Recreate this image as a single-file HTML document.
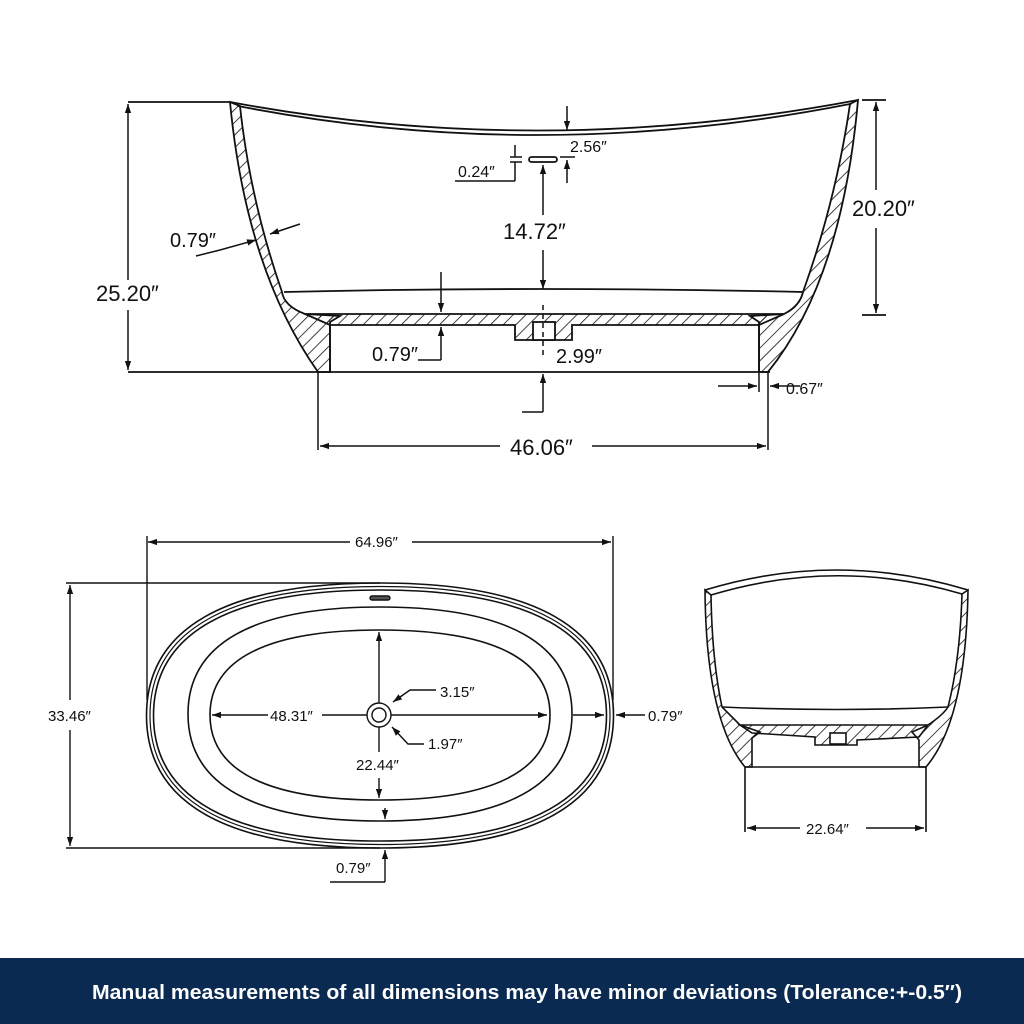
<!DOCTYPE html>
<html><head><meta charset="utf-8"><style>
html,body{margin:0;padding:0;background:#fff}
svg{display:block}
text{font-family:"Liberation Sans",sans-serif;fill:#111}
</style></head><body>
<svg width="1024" height="1024" viewBox="0 0 1024 1024" xmlns="http://www.w3.org/2000/svg">
<defs>
<pattern id="h" width="9" height="9" patternUnits="userSpaceOnUse" patternTransform="rotate(45)">
<line x1="0" y1="0" x2="0" y2="9" stroke="#111" stroke-width="1.6"/>
</pattern>
<marker id="a" viewBox="0 0 10 10" refX="10" refY="5" markerWidth="9" markerHeight="9" orient="auto-start-reverse" markerUnits="userSpaceOnUse">
<path d="M0,1.5 L10,5 L0,8.5Z" fill="#111"/>
</marker>
</defs>
<rect width="1024" height="1024" fill="#fff"/>

<g fill="none" stroke="#111" stroke-width="1.8">
<path d="M230,102 Q540,160 858,100"/>
<path d="M238,106 Q540,165 850,104"/>
<path d="M230,102 Q246,270 318,372 L330,372 L330,322 L340,316 L305,314 Q284,306 282,292 Q250,200 240,106 Z" fill="url(#h)"/>
<path d="M858,100 Q842,280 768,372 L759,372 L759,322 L750,316 L784,314 Q800,306 803,292 Q836,200 850,104 Z" fill="url(#h)"/>
<path d="M284,292 Q540,286 803,292"/>
<path d="M305,314 L784,314 L759,325 L572,325 L572,340 L515,340 L515,325 L330,325 Z" fill="url(#h)"/>
<rect x="533" y="322" width="22" height="18" fill="#fff"/>
<line x1="330" y1="325" x2="330" y2="372"/>
<line x1="759" y1="325" x2="759" y2="372"/>
<line x1="128" y1="372" x2="770" y2="372"/>
<line x1="128" y1="102" x2="230" y2="102"/>
<line x1="862" y1="100" x2="886" y2="100"/>
<line x1="862" y1="315" x2="886" y2="315"/>
<rect x="529" y="157" width="28" height="5" rx="2.5" fill="#fff"/>
</g>

<g fill="none" stroke="#111" stroke-width="1.5">
<line x1="128" y1="104" x2="128" y2="280" marker-start="url(#a)"/>
<line x1="128" y1="310" x2="128" y2="370" marker-end="url(#a)"/>
<line x1="876" y1="102" x2="876" y2="190" marker-start="url(#a)"/>
<line x1="876" y1="228" x2="876" y2="313" marker-end="url(#a)"/>
<line x1="567" y1="106" x2="567" y2="130" marker-end="url(#a)"/>
<line x1="567" y1="183" x2="567" y2="160" marker-end="url(#a)"/>
<line x1="560" y1="157" x2="575" y2="157"/>
<line x1="515" y1="145" x2="515" y2="157"/>
<line x1="510" y1="157" x2="522" y2="157"/>
<line x1="510" y1="162" x2="522" y2="162"/>
<line x1="515" y1="162" x2="515" y2="181"/>
<line x1="455" y1="181" x2="515" y2="181"/>
<line x1="543" y1="215" x2="543" y2="165" marker-end="url(#a)"/>
<line x1="543" y1="250" x2="543" y2="289" marker-end="url(#a)"/>
<line x1="196" y1="256" x2="220" y2="250"/>
<line x1="220" y1="250" x2="256" y2="240" marker-end="url(#a)"/>
<line x1="300" y1="224" x2="270" y2="234" marker-end="url(#a)"/>
<line x1="441" y1="272" x2="441" y2="312" marker-end="url(#a)"/>
<line x1="441" y1="360" x2="441" y2="327" marker-end="url(#a)"/>
<line x1="418" y1="360" x2="441" y2="360"/>
<line x1="543" y1="305" x2="543" y2="355" stroke-dasharray="5,4"/>
<line x1="543" y1="412" x2="543" y2="374" marker-end="url(#a)"/>
<line x1="522" y1="412" x2="543" y2="412"/>
<line x1="718" y1="386" x2="757" y2="386" marker-end="url(#a)"/>
<line x1="800" y1="386" x2="770" y2="386" marker-end="url(#a)"/>
<line x1="759" y1="372" x2="759" y2="392"/>
<line x1="318" y1="372" x2="318" y2="450"/>
<line x1="768" y1="372" x2="768" y2="450"/>
<line x1="320" y1="446" x2="500" y2="446" marker-start="url(#a)"/>
<line x1="592" y1="446" x2="766" y2="446" marker-end="url(#a)"/>
</g>

<g font-size="20">
<text x="570" y="152" font-size="16">2.56″</text>
<text x="458" y="177" font-size="16">0.24″</text>
<text x="503" y="239" font-size="22">14.72″</text>
<text x="170" y="247">0.79″</text>
<text x="96" y="301" font-size="22">25.20″</text>
<text x="852" y="216" font-size="22">20.20″</text>
<text x="372" y="361">0.79″</text>
<text x="556" y="363">2.99″</text>
<text x="786" y="394" font-size="16">0.67″</text>
<text x="510" y="455" font-size="22">46.06″</text>
</g>

<g fill="none" stroke="#111" stroke-width="1.6">
<path d="M146.5,715.5 C146.5,628 225.9,583 380,583 C534.1,583 613.5,628 613.5,715.5 C613.5,803 534.1,848 380,848 C225.9,848 146.5,803 146.5,715.5Z"/>
<path stroke-width="1.2" d="M150,715.5 C150,630.4 228.2,586.5 380,586.5 C531.8,586.5 610,630.4 610,715.5 C610,800.6 531.8,844.5 380,844.5 C228.2,844.5 150,800.6 150,715.5Z"/>
<path d="M153.5,715.5 C153.5,632.7 230.5,590 380,590 C529.5,590 606.5,632.7 606.5,715.5 C606.5,798.3 529.5,841 380,841 C230.5,841 153.5,798.3 153.5,715.5Z"/>
<path d="M188,714 C188,643.4 253.3,607 380,607 C506.7,607 572,643.4 572,714 C572,784.6 506.7,821 380,821 C253.3,821 188,784.6 188,714Z"/>
<path d="M210,715 C210,658.9 267.8,630 380,630 C492.2,630 550,658.9 550,715 C550,771.1 492.2,800 380,800 C267.8,800 210,771.1 210,715Z"/>
</g>
<g fill="none" stroke="#111" stroke-width="1.4">
<rect x="370" y="596" width="20" height="4" rx="2" fill="#555"/>
<line x1="148" y1="542" x2="350" y2="542" marker-start="url(#a)"/>
<line x1="412" y1="542" x2="611" y2="542" marker-end="url(#a)"/>
<line x1="147" y1="536" x2="147" y2="700"/>
<line x1="613" y1="536" x2="613" y2="700"/>
<line x1="66" y1="583" x2="380" y2="583"/>
<line x1="66" y1="848" x2="380" y2="848"/>
<line x1="70" y1="585" x2="70" y2="700" marker-start="url(#a)"/>
<line x1="70" y1="730" x2="70" y2="846" marker-end="url(#a)"/>
<line x1="212" y1="715" x2="268" y2="715" marker-start="url(#a)"/>
<line x1="322" y1="715" x2="547" y2="715" marker-end="url(#a)"/>
<line x1="379" y1="632" x2="379" y2="752" marker-start="url(#a)"/>
<line x1="379" y1="778" x2="379" y2="798" marker-end="url(#a)"/>
<line x1="573" y1="715" x2="604" y2="715" marker-end="url(#a)"/>
<line x1="645" y1="715" x2="616" y2="715" marker-end="url(#a)"/>
<line x1="385" y1="808" x2="385" y2="819" marker-end="url(#a)"/>
<line x1="385" y1="882" x2="385" y2="850" marker-end="url(#a)"/>
<line x1="330" y1="882" x2="385" y2="882"/>
<path d="M436,690 L410,690 L393,702" marker-end="url(#a)"/>
<path d="M424,744 L408,744 L392,727" marker-end="url(#a)"/>
<circle cx="379" cy="715" r="12" fill="#fff"/>
<circle cx="379" cy="715" r="7"/>
</g>
<g font-size="15">
<text x="355" y="547">64.96″</text>
<text x="48" y="721">33.46″</text>
<text x="270" y="721">48.31″</text>
<text x="440" y="697">3.15″</text>
<text x="428" y="749">1.97″</text>
<text x="356" y="770">22.44″</text>
<text x="648" y="721">0.79″</text>
<text x="336" y="873">0.79″</text>
</g>

<g fill="none" stroke="#111" stroke-width="1.6">
<path d="M705,590 Q837,550 968,590"/>
<path d="M711,595 Q837,557 962,594"/>
<path d="M705,590 Q706,720 745,767 L752,767 L752,738 L760,732 L740,725 Q725,710 722,707 Q712,660 711,595 Z" fill="url(#h)"/>
<path d="M968,590 Q966,720 926,767 L919,767 L919,740 L912,732 L928,725 Q943,715 948,707 Q960,660 962,594 Z" fill="url(#h)"/>
<path d="M722,707 Q837,712 948,707"/>
<path d="M740,725 L928,725 L919,737 L857,740 L857,745 L815,745 L815,737 L752,733 Z" fill="url(#h)"/>
<rect x="830" y="733" width="16" height="11" fill="#fff"/>
<line x1="745" y1="767" x2="926" y2="767"/>
<line x1="745" y1="767" x2="745" y2="832"/>
<line x1="926" y1="767" x2="926" y2="832"/>
</g>
<g fill="none" stroke="#111" stroke-width="1.4">
<line x1="747" y1="828" x2="800" y2="828" marker-start="url(#a)"/>
<line x1="866" y1="828" x2="924" y2="828" marker-end="url(#a)"/>
</g>
<text x="806" y="834" font-size="15">22.64″</text>

<rect x="0" y="958" width="1024" height="66" fill="#0b2a52"/>
<text x="92" y="999" font-size="20" font-weight="bold" textLength="870" lengthAdjust="spacingAndGlyphs" style="fill:#fff">Manual measurements of all dimensions may have minor deviations (Tolerance:+-0.5″)</text>
</svg>
</body></html>
